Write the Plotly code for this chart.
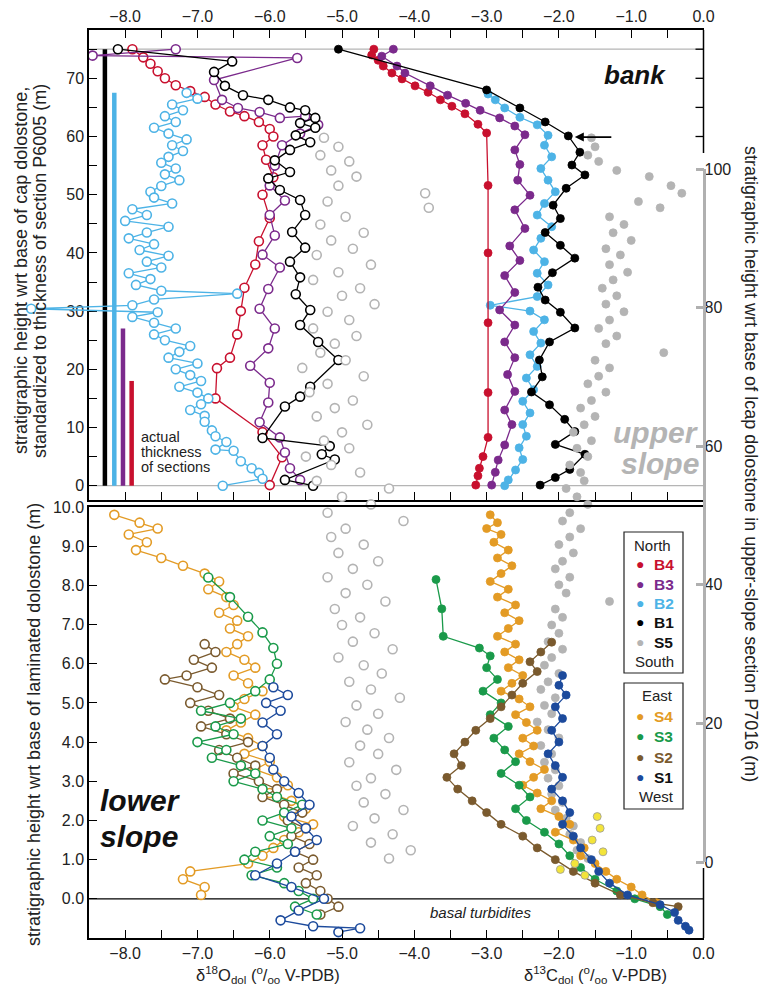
import plotly.graph_objects as go

W, H = 762, 987
def fx(p): return p / W
def fy(p): return 1 - p / H

X0, X1 = 89, 703.5
TOP0, TOP1 = 30, 500
BOT0, BOT1 = 507, 938

# ---------------- DATA ----------------
C_B4, C_B3, C_B2, C_B1, C_S5 = '#c8102e', '#7b2a8c', '#4db3e6', '#000000', '#b4b4b4'
C_S4, C_S3, C_S2, C_S1, C_Y = '#e39b25', '#1a9a4a', '#7a5a2e', '#1c4a9c', '#f3e43a'

# top panel: bank sections, standardized height (m) -- d18O (open)
b1_o_h = [75.0, 72.9, 71.1, 68.7, 67.1, 66.3, 65.0, 64.5, 63.2, 62.3, 61.5, 60.2, 59.0, 57.7, 55.9, 53.9, 52.8, 50.8, 49.1, 46.5,
          43.6, 40.9, 38.5, 35.8, 32.9, 30.2, 27.6, 24.7, 21.6, 17.0, 15.3, 13.6, 8.2, 6.8, 5.4, 4.5, 1.0, 0.0]
b1_o = [-8.1, -6.52, -6.77, -6.62, -6.37, -6.02, -5.72, -5.51, -5.37, -5.58, -5.37, -5.64, -5.44, -5.72, -5.93, -5.72, -6.02, -5.86, -5.58, -5.51,
        -5.69, -5.51, -5.72, -5.58, -5.64, -5.44, -5.58, -5.33, -5.05, -5.44, -5.58, -5.79, -6.1, -5.17, -5.28, -5.1, -5.79, -5.4]

b3_o_h = [75.0, 73.9, 73.5, 69.7, 66.3, 64.9, 64.2, 63.2, 63.5, 62.0, 60.5, 58.5, 55.0, 51.6, 49.0, 46.5, 43.0, 39.7, 37.5, 33.8,
          30.4, 27.0, 23.6, 20.6, 17.7, 14.3, 10.9, 8.3, 5.7, 3.0, 1.0]
b3_o = [-7.3, -8.45, -5.62, -6.77, -6.66, -6.44, -6.14, -5.86, -5.51, -5.33, -5.58, -5.83, -5.93, -6.0, -5.79, -6.0, -5.93, -6.1, -5.86, -6.02,
        -6.14, -5.93, -6.02, -6.27, -6.0, -6.02, -6.14, -5.86, -5.79, -5.72, -5.58]

b4_o_h = [75.0, 73.6, 72.5, 71.2, 70.0, 68.8, 67.8, 66.8, 65.5, 64.3, 63.5, 62.5, 61.3, 60.0, 58.5, 56.0, 53.0, 50.0, 46.0, 42.0,
          38.0, 34.0, 30.0, 26.0, 22.0, 20.2, 15.0, 9.2, 4.9, 0.1]
b4_o = [-7.9, -7.75, -7.65, -7.55, -7.45, -7.3, -7.1, -6.9, -6.75, -6.55, -6.35, -6.15, -6.0, -5.95, -6.1, -6.05, -5.95, -6.1, -6.0, -6.15,
        -6.2, -6.35, -6.4, -6.45, -6.55, -6.73, -6.75, -6.1, -5.83, -6.0]

b2_o_h = [67.5, 66.5, 65.5, 64.5, 63.5, 62.5, 61.5, 60.5, 59.5, 58.5, 57.5, 56.5, 55.5, 54.5, 53.5, 52.5, 51.5, 50.5, 49.5, 48.5,
          47.5, 46.5, 45.5, 44.5, 43.5, 42.5, 41.5, 40.5, 39.5, 38.5, 37.5, 36.5, 35.5, 34.5, 33.5, 33.0, 32.0, 31.0, 30.4, 29.8,
          29.0, 28.0, 27.0, 26.0, 25.0, 24.0, 23.0, 22.0, 21.0, 20.0, 19.0, 18.0, 17.0, 16.0, 15.0, 14.0, 13.0, 12.0, 11.0, 9.5,
          8.5, 7.5, 6.2, 6.0, 4.2, 3.0, 2.2, 1.2, 0.0]
b2_o = [-7.15, -7.0, -7.35, -7.2, -7.45, -7.3, -7.6, -7.4, -7.15, -7.35, -7.2, -7.4, -7.5, -7.3, -7.45, -7.25, -7.5, -7.65, -7.6, -7.35,
        -7.9, -7.7, -8.0, -7.4, -7.7, -7.95, -7.6, -7.8, -7.4, -7.7, -7.5, -7.95, -7.65, -7.85, -7.5, -6.45, -7.6, -7.9, -9.3, -7.55,
        -7.9, -7.6, -7.3, -7.6, -7.45, -7.1, -7.25, -7.4, -7.0, -7.3, -7.1, -6.95, -7.25, -7.0, -6.85, -6.95, -7.1, -6.9, -6.9, -6.8,
        -6.75, -6.6, -6.75, -6.5, -6.4, -6.25, -6.15, -6.1, -6.65]

# top panel -- d13C (filled)
b4_c_h = [75.0, 74.0, 73.1, 72.1, 70.9, 69.9, 68.7, 67.6, 66.3, 65.2, 63.9, 62.1, 60.6, 51.6, 40.0, 28.0, 16.0, 8.3, 5.0, 3.0, 1.7, 0.1]
b4_c = [-4.56, -4.59, -4.5, -4.43, -4.31, -4.17, -3.99, -3.81, -3.64, -3.48, -3.3, -3.12, -3.0, -2.98, -2.98, -2.98, -2.98, -2.98,
        -3.05, -3.1, -3.12, -3.15]

b3_c_h = [75.0, 73.8, 72.1, 70.9, 68.7, 67.1, 65.7, 64.5, 63.2, 61.8, 60.3, 57.7, 55.2, 52.5, 49.9, 47.4, 44.2, 41.2, 38.7, 36.1,
          33.2, 30.2, 27.6, 24.7, 22.0, 19.1, 16.2, 13.0, 10.5, 7.0, 4.4, 2.3, 0.1]
b3_c = [-4.29, -4.45, -4.24, -4.13, -3.78, -3.54, -3.29, -3.09, -2.82, -2.61, -2.47, -2.61, -2.54, -2.57, -2.4, -2.61, -2.47, -2.68, -2.54, -2.75,
        -2.61, -2.82, -2.61, -2.75, -2.61, -2.71, -2.61, -2.75, -2.65, -2.75, -2.84, -2.88, -2.93]

b2_c_h = [67.3, 66.3, 64.9, 63.3, 62.0, 60.2, 58.5, 56.5, 54.5, 52.5, 50.5, 48.5, 46.5, 44.5, 42.5, 40.5, 38.5, 36.5, 34.5, 32.5,
          31.0, 30.0, 28.5, 26.5, 24.5, 22.5, 20.5, 18.5, 16.5, 14.5, 12.5, 10.5, 8.5, 6.5, 4.5, 2.7, 1.0, 0.0]
b2_c = [-2.98, -2.88, -2.75, -2.54, -2.3, -2.15, -2.2, -2.1, -2.25, -2.15, -2.05, -2.2, -2.3, -2.1, -2.25, -2.35, -2.2, -2.3, -2.15, -2.3,
        -2.95, -2.4, -2.2, -2.35, -2.25, -2.4, -2.3, -2.45, -2.35, -2.5, -2.4, -2.5, -2.45, -2.55, -2.5, -2.6, -2.7, -2.75]

b1_c_h = [75.0, 68.0, 64.9, 62.5, 60.1, 57.3, 55.1, 53.4, 51.1, 48.2, 45.9, 43.5, 41.3, 39.1, 36.6, 34.1, 31.9, 29.8, 27.1, 24.7,
          21.6, 18.7, 16.1, 13.9, 11.4, 9.3, 7.1, 5.4, 2.8, 1.4, 0.1]
b1_c = [-5.05, -3.0, -2.54, -2.19, -1.87, -1.71, -1.82, -1.64, -1.9, -2.08, -1.98, -2.19, -1.98, -1.78, -2.09, -2.29, -2.19, -1.98, -1.78, -2.13,
        -2.27, -2.23, -2.38, -2.13, -1.92, -1.78, -2.05, -1.64, -1.85, -2.05, -2.26]

# thickness of sections (m)
thick_names = ['B1', 'B2', 'B3', 'B4']
thick_vals = [75.0, 67.5, 27.0, 18.0]

# S5 upper-slope section P7016 (right axis, m)
s5_h = [104.5, 103.2, 102.0, 101.1, 99.8, 98.9, 97.6, 96.5, 95.3, 94.4, 93.1, 92.0, 90.8, 89.7, 88.5, 87.6, 86.2, 85.1, 84.0, 82.8,
        81.7, 80.5, 79.4, 78.2, 77.0, 75.9, 74.8, 73.5, 72.4, 71.3, 70.1, 69.0, 67.8, 66.6, 65.5, 64.3, 63.1, 62.0, 60.8, 59.7,
        58.5, 57.3, 56.2, 55.0, 53.9, 52.7, 51.6, 50.4, 49.2, 48.1, 46.9, 45.8, 44.6, 43.4, 42.3, 41.1, 40.0, 38.8, 37.6, 36.5,
        35.3, 34.2, 33.0, 31.8, 30.7, 29.5, 28.4, 27.2, 26.0, 24.9, 23.7, 22.6, 21.4, 20.2, 19.1, 17.9, 16.8, 15.6, 14.4, 13.3,
        12.1, 11.0, 9.8, 8.6, 7.5, 6.3, 5.2, 4.0, 2.8, 1.7, 0.5]
s5_o = [-5.25, -5.05, -5.3, -4.9, -5.15, -4.8, -5.05, -3.85, -5.2, -3.8, -4.95, -5.3, -4.7, -5.15, -4.85, -5.35, -4.6, -5.05, -5.4, -4.75,
        -5.0, -4.55, -5.2, -4.9, -5.4, -4.8, -5.1, -5.3, -4.95, -5.55, -4.7, -5.2, -5.45, -4.85, -5.1, -5.35, -4.65, -5.0, -5.25, -4.9,
        -5.5, -5.15, -4.75, -5.35, -4.35, -5.0, -4.6, -5.2, -4.15, -4.95, -5.15, -4.7, -5.05, -4.5, -4.85, -5.2, -4.65, -4.95, -4.4, -5.1,
        -4.75, -5.0, -4.55, -4.85, -4.3, -5.05, -4.7, -4.45, -4.9, -4.6, -4.2, -4.8, -4.5, -4.95, -4.65, -4.35, -4.75, -4.5, -4.9, -4.25,
        -4.6, -4.8, -4.4, -4.7, -4.15, -4.55, -4.85, -4.3, -4.6, -4.05, -4.35]
s5_c = [-1.55, -1.5, -1.6, -1.45, -1.2, -0.75, -0.45, -0.3, -0.9, -0.6, -1.3, -1.1, -1.25, -1.0, -1.35, -1.15, -1.3, -1.05, -1.25, -1.4,
        -1.2, -1.35, -1.1, -1.3, -1.45, -1.2, -1.35, -0.55, -1.5, -1.3, -1.45, -1.6, -1.35, -1.55, -1.7, -1.5, -1.65, -1.8, -1.55, -1.75,
        -1.6, -1.85, -1.7, -1.65, -1.9, -1.75, -1.6, -1.85, -1.95, -1.7, -1.85, -2.0, -1.8, -1.95, -2.05, -1.85, -2.0, -1.9, -1.3, -2.05,
        -1.95, -2.1, -2.0, -2.15, -1.95, -2.1, -2.2, -2.0, -2.15, -2.25, -2.05, -2.2, -2.1, -2.3, -2.15, -2.0, -2.25, -2.1, -2.2, -2.05,
        -2.15, -2.0, -2.1, -1.95, -2.05, -1.9, -1.8, -1.85, -1.7, -1.75, -1.6]

# lower slope sections, height wrt base of laminated dolostone (m) -- d18O (open)
s4_o_h = [9.8, 9.6, 9.45, 9.3, 9.1, 8.9, 8.7, 8.5, 8.3, 8.1, 7.9, 7.7, 7.5, 7.3, 7.1, 6.9, 6.7, 6.5, 6.3, 6.1,
          5.9, 5.7, 5.5, 5.3, 5.1, 4.9, 4.7, 4.5, 4.3, 4.1, 3.9, 3.7, 3.5, 3.3, 3.1, 2.9, 2.7, 2.5, 2.3, 2.1,
          1.9, 1.7, 1.5, 1.3, 1.1, 0.9, 0.7, 0.5, 0.3, 0.1]
s4_o = [-8.15, -7.8, -7.55, -7.95, -7.7, -7.85, -7.5, -7.2, -6.9, -6.7, -6.85, -6.6, -6.5, -6.7, -6.45, -6.55, -6.3, -6.45, -6.6, -6.35,
        -6.2, -6.5, -6.3, -6.1, -6.35, -6.5, -6.2, -6.4, -6.6, -6.3, -6.1, -6.35, -6.0, -6.2, -5.9, -5.75, -6.0, -5.7, -5.5, -5.8,
        -5.4, -5.6, -5.8, -5.95, -6.1, -6.3, -7.1, -7.2, -6.9, -6.95]

s3_o_h = [8.2, 7.7, 7.2, 6.8, 6.4, 6.0, 5.6, 5.3, 5.0, 4.8, 4.6, 4.4, 4.2, 4.0, 3.8, 3.6, 3.4, 3.2, 3.0, 2.8,
          2.6, 2.4, 2.2, 2.0, 1.8, 1.6, 1.4, 1.2, 1.0, 0.8, 0.6, 0.4, 0.2, 0.0, -0.2, -0.4]
s3_o = [-6.85, -6.55, -6.3, -6.1, -5.95, -5.9, -6.0, -6.2, -6.55, -6.95, -6.4, -6.75, -6.5, -7.0, -6.6, -6.8, -6.4, -6.2, -6.5, -6.1,
        -5.9, -5.55, -5.8, -6.1, -5.7, -6.0, -5.75, -6.2, -6.35, -5.9, -6.25, -5.8, -5.6, -5.4, -5.65, -5.35]

s2_o_h = [6.5, 6.3, 6.1, 5.9, 5.7, 5.6, 5.4, 5.2, 5.0, 4.8, 4.6, 4.4, 4.2, 4.0, 3.8, 3.6, 3.4, 3.2, 3.0, 2.8,
          2.6, 2.4, 2.2, 2.0, 1.8, 1.6, 1.4, 1.2, 1.0, 0.8, 0.6, 0.4, 0.2, 0.0, -0.2, -0.4]
s2_o = [-6.9, -6.75, -7.05, -6.8, -7.15, -7.45, -7.0, -6.7, -7.1, -6.85, -6.55, -6.95, -6.6, -6.3, -6.7, -6.45, -6.2, -6.5, -6.15, -5.9,
        -6.1, -5.8, -5.55, -5.75, -5.5, -5.7, -5.45, -5.65, -5.4, -5.6, -5.35, -5.5, -5.3, -5.2, -5.05, -5.3]

s1_o_h = [5.4, 5.2, 5.0, 4.8, 4.5, 4.2, 3.9, 3.6, 3.3, 3.0, 2.7, 2.4, 2.1, 1.8, 1.5, 1.2, 0.9, 0.6, 0.3, 0.0,
          -0.3, -0.55, -0.7, -0.75, -0.85]
s1_o = [-5.95, -5.75, -6.05, -5.85, -6.1, -5.9, -6.1, -6.0, -5.95, -5.8, -5.6, -5.45, -5.7, -5.5, -5.35, -5.65, -5.9, -6.2, -5.7, -5.25,
        -5.6, -5.85, -5.4, -4.75, -5.05]

# lower slope -- d13C (filled)
s4_c_h = [9.8, 9.6, 9.45, 9.3, 9.1, 8.9, 8.7, 8.5, 8.3, 8.1, 7.9, 7.7, 7.5, 7.3, 7.1, 6.9, 6.7, 6.5, 6.3, 6.1,
          5.9, 5.7, 5.5, 5.3, 5.1, 4.9, 4.7, 4.5, 4.3, 4.1, 3.9, 3.7, 3.5, 3.3, 3.1, 2.9, 2.7, 2.5, 2.3, 2.1,
          1.9, 1.7, 1.5, 1.3, 1.1, 0.9, 0.7, 0.5, 0.3, 0.1, -0.1]
s4_c = [-2.95, -2.85, -3.0, -2.8, -2.9, -2.7, -2.85, -2.65, -2.8, -2.95, -2.7, -2.85, -2.6, -2.75, -2.55, -2.7, -2.85, -2.6, -2.75, -2.55,
        -2.7, -2.5, -2.65, -2.8, -2.55, -2.4, -2.6, -2.45, -2.3, -2.5, -2.35, -2.55, -2.4, -2.2, -2.35, -2.5, -2.3, -2.1, -2.25, -2.0,
        -1.85, -2.05, -1.8, -1.65, -1.7, -1.5, -1.35, -1.2, -1.0, -0.85, -0.65]

s3_c_h = [8.15, 7.4, 6.7, 6.4, 6.2, 5.9, 5.6, 5.3, 5.0, 4.7, 4.4, 4.1, 3.8, 3.5, 3.2, 2.9, 2.6, 2.3, 2.0, 1.7,
          1.4, 1.1, 0.8, 0.5, 0.2, 0.0, -0.2, -0.4]
s3_c = [-3.7, -3.62, -3.6, -3.1, -2.95, -3.0, -2.85, -3.05, -2.8, -2.95, -2.7, -2.9, -2.75, -2.6, -2.8, -2.55, -2.4, -2.6, -2.45, -2.2,
        -2.0, -1.85, -1.7, -1.5, -1.2, -0.95, -0.6, -0.5]

s2_c_h = [6.55, 6.3, 6.05, 5.8, 5.5, 5.2, 4.9, 4.6, 4.3, 4.0, 3.7, 3.4, 3.1, 2.8, 2.5, 2.2, 1.9, 1.6, 1.3, 1.0,
          0.7, 0.4, 0.1, -0.1, -0.2]
s2_c = [-2.1, -2.25, -2.4, -2.3, -2.5, -2.65, -2.8, -2.95, -3.15, -3.3, -3.45, -3.35, -3.55, -3.4, -3.2, -3.0, -2.8, -2.5, -2.3, -2.05,
        -1.8, -1.5, -1.15, -0.7, -0.35]

s1_c_h = [5.7, 5.45, 5.2, 4.9, 4.6, 4.3, 4.0, 3.7, 3.4, 3.1, 2.8, 2.5, 2.2, 1.9, 1.6, 1.3, 1.0, 0.7, 0.4, 0.1,
          -0.15, -0.35, -0.55, -0.7, -0.8]
s1_c = [-1.95, -2.0, -1.9, -2.05, -1.95, -2.1, -2.0, -2.15, -2.05, -1.95, -2.1, -1.95, -1.85, -1.95, -1.8, -1.7, -1.55, -1.45, -1.3, -1.05,
        -0.6, -0.4, -0.35, -0.25, -0.2]

yel_c_h = [2.1, 1.8, 1.5, 1.2, 0.9, 0.75, 0.6]
yel_c = [-1.47, -1.43, -1.54, -1.39, -1.78, -1.98, -1.64]

# ---------------- FIGURE ----------------
fig = go.Figure()

def open_tr(x, y, col, xa='x', ya='y'):
    return go.Scatter(x=x, y=y, mode='lines+markers', xaxis=xa, yaxis=ya, hoverinfo='skip',
                      line=dict(color=col, width=1.3),
                      marker=dict(symbol='circle', size=9, color='white', line=dict(color=col, width=1.6)))

def fill_tr(x, y, col, xa='x', ya='y', mode='lines+markers', lc=None):
    return go.Scatter(x=x, y=y, mode=mode, xaxis=xa, yaxis=ya, hoverinfo='skip',
                      line=dict(color=col, width=1.3),
                      marker=dict(symbol='circle', size=8, color=col, line=dict(color=lc or col, width=0.8)))

# S5 (behind)
fig.add_trace(go.Scatter(x=s5_o, y=s5_h, mode='markers', xaxis='x', yaxis='y3', hoverinfo='skip',
                         marker=dict(symbol='circle', size=9, color='white', line=dict(color=C_S5, width=1.6))))
fig.add_trace(fill_tr(s5_c, s5_h, C_S5, 'x', 'y3', mode='markers'))

# thickness bars
bar_x = [-8.28, -8.15, -8.03, -7.91]
bar_col = [C_B1, C_B2, C_B3, C_B4]
for bx, bv, bc in zip(bar_x, thick_vals, bar_col):
    fig.add_trace(go.Scatter(x=[bx, bx], y=[0, bv], mode='lines', xaxis='x', yaxis='y', hoverinfo='skip',
                             line=dict(color=bc, width=4.5)))

# top panel d18O
fig.add_trace(open_tr(b2_o, b2_o_h, C_B2, 'x3', 'y'))
fig.add_trace(open_tr(b4_o, b4_o_h, C_B4))
fig.add_trace(open_tr(b3_o, b3_o_h, C_B3))
fig.add_trace(open_tr(b1_o, b1_o_h, C_B1))
# top panel d13C
fig.add_trace(fill_tr(b2_c, b2_c_h, C_B2))
fig.add_trace(fill_tr(b4_c, b4_c_h, C_B4))
fig.add_trace(fill_tr(b3_c, b3_c_h, C_B3))
fig.add_trace(fill_tr(b1_c, b1_c_h, C_B1))

# bottom panel
fig.add_trace(open_tr(s4_o, s4_o_h, C_S4, 'x2', 'y2'))
fig.add_trace(open_tr(s2_o, s2_o_h, C_S2, 'x2', 'y2'))
fig.add_trace(open_tr(s3_o, s3_o_h, C_S3, 'x2', 'y2'))
fig.add_trace(open_tr(s1_o, s1_o_h, C_S1, 'x2', 'y2'))
fig.add_trace(fill_tr(s4_c, s4_c_h, C_S4, 'x2', 'y2'))
fig.add_trace(fill_tr(s3_c, s3_c_h, C_S3, 'x2', 'y2'))
fig.add_trace(fill_tr(s2_c, s2_c_h, C_S2, 'x2', 'y2'))
fig.add_trace(fill_tr(s1_c, s1_c_h, C_S1, 'x2', 'y2'))
fig.add_trace(fill_tr(yel_c, yel_c_h, C_Y, 'x2', 'y2', mode='markers', lc='#9a9a9a'))

FONT = 'Liberation Sans, Arial, Helvetica, sans-serif'
xscale = (X1 - X0) / 8.5
tickcommon = dict(ticks='inside', ticklen=8, tickwidth=1.3, tickcolor='black', showgrid=False, zeroline=False,
                  linecolor='black', linewidth=1.5, automargin=False, tickfont=dict(size=16, color='#222'))

ytop_hi = (485.7 - TOP0) / 5.82
ytop_lo = -(TOP1 - 485.7) / 5.82
y3_hi = (862 - TOP0) / 6.93
y3_lo = -(BOT1 - 862) / 6.93

fig.update_layout(
    width=W, height=H, margin=dict(l=0, r=0, t=0, b=0),
    paper_bgcolor='white', plot_bgcolor='rgba(0,0,0,0)', showlegend=False,
    font=dict(family=FONT, size=15, color='#222'),
    xaxis=dict(domain=[fx(X0), fx(X1)], range=[-8.5, 0], anchor='y', side='top', showline=True, mirror='ticks',
               tick0=0, dtick=1, tickformat='.1f',
               minor=dict(tick0=0, dtick=0.5, ticks='inside', ticklen=8, tickwidth=1.3, tickcolor='black'), **tickcommon),
    xaxis2=dict(domain=[fx(X0), fx(X1)], range=[-8.5, 0], anchor='y2', side='bottom', showline=True, mirror=True,
                tick0=0, dtick=1, tickformat='.1f',
                minor=dict(tick0=0, dtick=0.5, ticks='inside', ticklen=8, tickwidth=1.3, tickcolor='black'), **tickcommon),
    xaxis3=dict(domain=[0, fx(X1)], range=[-8.5 - X0 / xscale, 0], anchor='y', visible=False),
    yaxis=dict(domain=[fy(TOP1), fy(TOP0)], range=[ytop_lo, ytop_hi], anchor='x', showline=True,
               tick0=0, dtick=10,
               minor=dict(tick0=0, dtick=5, ticks='inside', ticklen=8, tickwidth=1.3, tickcolor='black'), **tickcommon),
    yaxis2=dict(domain=[fy(BOT1), fy(BOT0)], range=[-1.0, 10.0], anchor='x2', showline=True,
                tickmode='array', tickvals=[0, 1, 2, 3, 4, 5, 6, 7, 8, 9, 10], tickformat='.1f', **tickcommon),
    yaxis3=dict(domain=[fy(BOT1), fy(TOP0)], range=[y3_lo, y3_hi], anchor='x', side='right', showline=False,
                showgrid=False, zeroline=False, tickmode='array', tickvals=[0, 20, 40, 60, 80, 100],
                ticks='inside', ticklen=8, tickwidth=2.5, tickcolor='#b0b0b0', automargin=False,
                tickfont=dict(size=16, color='#222')),
)

shapes = []
for yv in [0, 75]:
    shapes.append(dict(type='line', xref='paper', yref='y', x0=fx(X0), x1=fx(X1), y0=yv, y1=yv,
                       line=dict(color='#b5b5b5', width=1.2), layer='below'))
shapes.append(dict(type='line', xref='paper', yref='y2', x0=fx(X0), x1=fx(X1), y0=0, y1=0,
                   line=dict(color='black', width=1.2), layer='below'))
shapes.append(dict(type='line', xref='paper', yref='paper', x0=fx(X1), x1=fx(X1), y0=fy(TOP0), y1=fy(153),
                   line=dict(color='black', width=1.5)))
shapes.append(dict(type='line', xref='paper', yref='paper', x0=fx(X1), x1=fx(X1), y0=fy(868), y1=fy(BOT1),
                   line=dict(color='black', width=1.5)))
for tv in [60, 65, 70, 75]:
    shapes.append(dict(type='line', xref='paper', yref='y', x0=fx(X1 - 8), x1=fx(X1), y0=tv, y1=tv,
                       line=dict(color='black', width=1.3)))
shapes.append(dict(type='line', xref='paper', yref='y3', x0=fx(X1 + 1), x1=fx(X1 + 1), y0=0, y1=100,
                   line=dict(color='#b0b0b0', width=3)))
shapes.append(dict(type='rect', xref='paper', yref='paper', x0=fx(624), x1=fx(683), y0=fy(673), y1=fy(532),
                   line=dict(color='#222', width=1.2), fillcolor='white'))
shapes.append(dict(type='rect', xref='paper', yref='paper', x0=fx(624), x1=fx(683), y0=fy(809), y1=fy(683),
                   line=dict(color='#222', width=1.2), fillcolor='white'))
fig.update_layout(shapes=shapes)

ann = []
def txt(x, y, t, size=15, color='#222', xanchor='center', angle=0, **kw):
    ann.append(dict(xref='paper', yref='paper', x=fx(x), y=fy(y), text=t, showarrow=False, xanchor=xanchor,
                    yanchor='middle', textangle=angle, font=dict(size=size, color=color, family=FONT), **kw))

# axis titles
txt(21, 271, 'stratigraphic height wrt base of cap dolostone,', size=18, angle=-90)
txt(40, 271, 'standardized to thickness of section P6005 (m)', size=18, angle=-90)
txt(34, 725, 'stratigraphic height wrt base of laminated dolostone (m)', size=18, angle=-90)
txt(751, 464, 'stratigraphic height wrt base of lcap dolostone in upper-slope section P7016 (m)', size=18, angle=90)
unit = '(<sup>o</sup>/<sub>oo</sub> V-PDB)'
txt(268, 975, 'δ<sup>18</sup>O<sub>dol</sub> ' + unit, size=16.5)
txt(595, 975, 'δ<sup>13</sup>C<sub>dol</sub> ' + unit, size=16.5)

# labels in plot
txt(635, 75, '<b><i>bank</i></b>', size=26, color='#111')
txt(701, 432, '<b><i>upper</i></b>', size=30, color='#b4b4b4', xanchor='right')
txt(701, 464, '<b><i>slope</i></b>', size=30, color='#b4b4b4', xanchor='right')
txt(98, 800, '<b><i>lower</i></b>', size=30, color='#111', xanchor='left')
txt(98, 836, '<b><i>slope</i></b>', size=30, color='#111', xanchor='left')
txt(480, 912, '<i>basal turbidites</i>', size=15, color='#222')
txt(139, 437, 'actual', size=14.5, xanchor='left')
txt(139, 452, 'thickness', size=14.5, xanchor='left')
txt(139, 467, 'of sections', size=14.5, xanchor='left')

# legend
txt(652, 545, 'North', size=15)
txt(654, 661, 'South', size=15)
txt(657, 695, 'East', size=15)
txt(656, 796, 'West', size=15)
leg = [('B4', C_B4, C_B4, 564), ('B3', C_B3, C_B3, 584), ('B2', C_B2, C_B2, 603), ('B1', C_B1, '#111', 622),
       ('S5', C_S5, '#111', 642), ('S4', C_S4, C_S4, 716), ('S3', C_S3, C_S3, 736), ('S2', C_S2, C_S2, 757),
       ('S1', C_S1, '#111', 777)]
for name, mc, tc, yy in leg:
    txt(640, yy, '●', size=14, color=mc)
    txt(652, yy, '<b>' + name + '</b>', size=15.5, color=tc, xanchor='left')

ann.append(dict(xref='x', yref='y3', x=-1.78, y=104.6, text='', showarrow=True, ax=38, ay=0,
                arrowhead=2, arrowsize=1, arrowwidth=1.8, arrowcolor='black'))
fig.update_layout(annotations=ann)

fig.write_html('out.html', config={'displayModeBar': False},
               post_script="document.body.style.margin='0px';document.body.style.overflow='hidden';")
